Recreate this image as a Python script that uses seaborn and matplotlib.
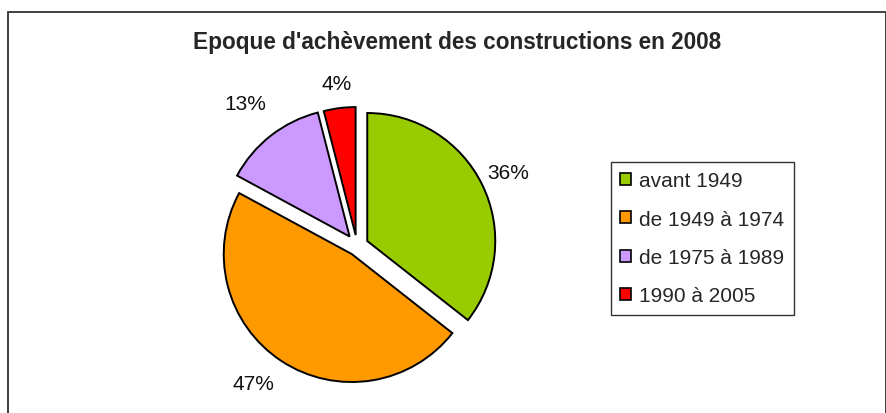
import numpy as np
import pandas as pd
import matplotlib.pyplot as plt
from matplotlib.patches import Rectangle
import seaborn as sns

# données
periodes = ["avant 1949", "de 1949 à 1974", "de 1975 à 1989", "1990 à 2005"]
parts = [35.6, 47.3, 13.1, 4.0]
couleurs = ["#99CC00", "#FF9900", "#CC99FF", "#FF0000"]
titre = "Epoque d'achèvement des constructions en 2008"

sns.set_style("white")
plt.rcParams['font.family'] = ['Liberation Sans', 'DejaVu Sans']

df = pd.DataFrame({"periode": periodes, "part": parts})
pal = sns.color_palette(couleurs)

fig = plt.figure(figsize=(8.87, 4.14), dpi=100)
ax = fig.add_axes([0, 0, 1, 1])

wedges, texts, autotexts = ax.pie(
    df["part"], colors=pal, startangle=90, counterclock=False,
    center=(357, 167), radius=128, explode=[11.4, 9.6, 12, 11],
    autopct='%.0f%%', pctdistance=1.25,
    wedgeprops=dict(edgecolor='black', linewidth=1.4),
    textprops=dict(fontsize=15, color='#111111'))

# position des étiquettes, un peu différente pour chaque part
dists = [1.22, 1.27, 1.32, 1.19]
decal = [0, -4, 0, 0]
for t, w, d, da in zip(autotexts, wedges, dists, decal):
    a = np.deg2rad((w.theta1 + w.theta2) / 2 + da)
    t.set_position((w.center[0] + d * w.r * np.cos(a), w.center[1] + d * w.r * np.sin(a)))

ax.set_xlim(0, 887)
ax.set_ylim(0, 414)
ax.set_aspect('equal')
ax.axis('off')

fig.text(457 / 887, 1 - 43 / 414, titre, ha='center', va='center',
         fontsize=16.3, fontweight='bold')

leg = ax.legend(wedges, df["periode"], loc='upper left',
                bbox_to_anchor=(611 / 887, 1 - 163 / 414), bbox_transform=fig.transFigure,
                fontsize=15, frameon=True, fancybox=False, edgecolor='black',
                borderaxespad=0, handlelength=0.5, handleheight=0.5,
                handletextpad=0.4, labelspacing=0.93, borderpad=0.45)
leg.get_frame().set_linewidth(1)
for h in leg.legend_handles:
    h.set_linewidth(1.2)

fig.add_artist(Rectangle((8 / 887, -0.1), 878 / 887, (414 - 13) / 414 + 0.1,
                         transform=fig.transFigure, fill=False,
                         edgecolor='#333333', linewidth=1.3))

fig.savefig("out.png", dpi=100)
